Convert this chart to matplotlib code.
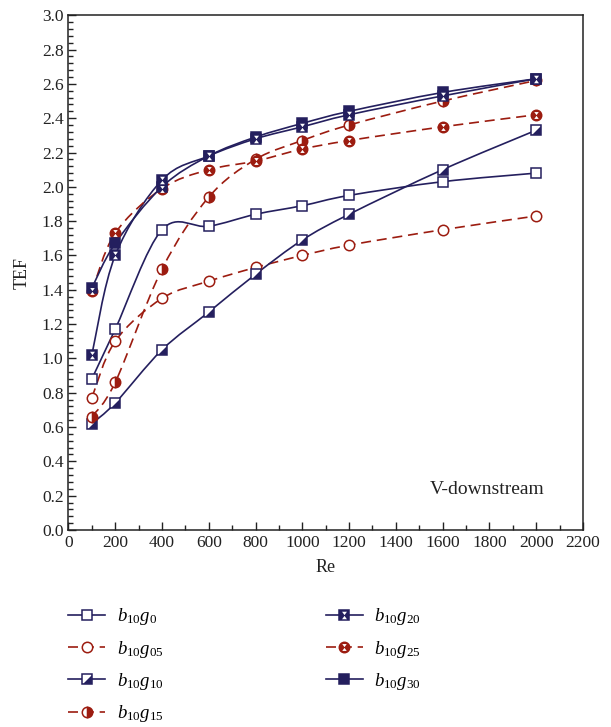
import numpy as np
import matplotlib
matplotlib.use("Agg")
from matplotlib import pyplot as plt
from matplotlib.path import Path
from matplotlib.patches import PathPatch
from matplotlib.lines import Line2D
from matplotlib.legend_handler import HandlerTuple
from matplotlib.ticker import MultipleLocator

plt.rcParams['font.family'] = ['Liberation Serif', 'DejaVu Serif']
plt.rcParams['mathtext.fontset'] = 'custom'
plt.rcParams['mathtext.rm'] = 'Liberation Serif'
plt.rcParams['mathtext.it'] = 'Liberation Serif:italic'

# ---------------------------------------------------------------------------
# Data
# ---------------------------------------------------------------------------
re_vals = [100, 200, 400, 600, 800, 1000, 1200, 1600, 2000]

tef_g0 = [0.88, 1.17, 1.75, 1.77, 1.84, 1.89, 1.95, 2.03, 2.08]
tef_g05 = [0.77, 1.10, 1.35, 1.45, 1.53, 1.60, 1.66, 1.75, 1.83]
tef_g10 = [0.62, 0.74, 1.05, 1.27, 1.49, 1.69, 1.84, 2.10, 2.33]
tef_g15 = [0.66, 0.86, 1.52, 1.94, 2.16, 2.27, 2.36, 2.50, 2.62]
tef_g20 = [1.02, 1.60, 2.04, 2.18, 2.28, 2.35, 2.42, 2.53, 2.63]
tef_g25 = [1.39, 1.73, 1.99, 2.10, 2.15, 2.22, 2.27, 2.35, 2.42]
tef_g30 = [1.41, 1.67, 2.00, 2.18, 2.29, 2.37, 2.44, 2.55, 2.63]

labels = [r'$b_{10}g_{0}$', r'$b_{10}g_{05}$', r'$b_{10}g_{10}$', r'$b_{10}g_{15}$',
          r'$b_{10}g_{20}$', r'$b_{10}g_{25}$', r'$b_{10}g_{30}$']

NAVY = '#241f5e'
RED = '#9c1c10'
TXT = '#222222'

# custom marker shapes
TRI_LR = [(-1, -1), (1, -1), (1, 1), (-1, -1)]          # lower-right half of a square
HOURGLASS = [(-0.65, 1), (0.65, 1), (0, 0.1), (-0.65, 1),
             (-0.65, -1), (0.65, -1), (0, -0.1), (-0.65, -1)]


def smooth_path(x, y):
    """Catmull-Rom curve through the points, as cubic Bezier segments."""
    pts = np.column_stack([x, y]).astype(float)
    ext = np.vstack([pts[0], pts, pts[-1]])
    verts = [pts[0]]
    codes = [Path.MOVETO]
    for i in range(len(pts) - 1):
        p0, p1, p2, p3 = ext[i], ext[i + 1], ext[i + 2], ext[i + 3]
        verts += [p1 + (p2 - p0) / 6.0, p2 - (p3 - p1) / 6.0, p2]
        codes += [Path.CURVE4] * 3
    return Path(verts, codes)


fig = plt.figure(figsize=(6.11, 7.27), dpi=100)
ax = fig.add_axes([0.112, 0.271, 0.842, 0.708])

ms = 7.5
lw = 1.2
dash = (0, (6, 3.5))

series = [
    (tef_g0, NAVY, '-', 'plain_sq'),
    (tef_g05, RED, dash, 'plain_ci'),
    (tef_g10, NAVY, '-', 'half_sq'),
    (tef_g15, RED, dash, 'half_ci'),
    (tef_g20, NAVY, '-', 'hour_sq'),
    (tef_g25, RED, dash, 'hour_ci'),
    (tef_g30, NAVY, '-', 'full_sq'),
]

handles = []
for vals, col, ls, kind in series:
    ax.add_patch(PathPatch(smooth_path(re_vals, vals), fill=False,
                           edgecolor=col, linestyle=ls, linewidth=lw, zorder=2))
    base = dict(color=col, markeredgecolor=col, markersize=ms, markeredgewidth=1.1)
    if kind == 'plain_sq':
        parts = [dict(marker='s', markerfacecolor='white')]
    elif kind == 'plain_ci':
        parts = [dict(marker='o', markerfacecolor='white')]
    elif kind == 'half_sq':
        parts = [dict(marker='s', markerfacecolor='white'),
                 dict(marker=TRI_LR, markerfacecolor=col, markersize=ms * 0.85, markeredgewidth=0)]
    elif kind == 'half_ci':
        parts = [dict(marker='o', fillstyle='right', markerfacecolor=col,
                      markerfacecoloralt='white')]
    elif kind == 'hour_sq':
        parts = [dict(marker='s', markerfacecolor=col),
                 dict(marker=HOURGLASS, markerfacecolor='white', markeredgewidth=0,
                      markersize=ms * 0.72)]
    elif kind == 'hour_ci':
        parts = [dict(marker='o', markerfacecolor=col),
                 dict(marker=HOURGLASS, markerfacecolor='white', markeredgewidth=0,
                      markersize=ms * 0.66)]
    else:
        parts = [dict(marker='s', markerfacecolor=col)]

    leg_parts = []
    for j, p in enumerate(parts):
        kw = dict(base)
        kw.update(p)
        ax.plot(re_vals, vals, linestyle='none', zorder=3 + j, **kw)
        leg_parts.append(Line2D([], [], linestyle=ls if j == 0 else 'none',
                                linewidth=lw, **kw))
    handles.append(tuple(leg_parts))

ax.set_xlim(0, 2200)
ax.set_ylim(0, 3.0)
ax.xaxis.set_major_locator(MultipleLocator(200))
ax.xaxis.set_minor_locator(MultipleLocator(100))
ax.yaxis.set_major_locator(MultipleLocator(0.2))
ax.yaxis.set_minor_locator(MultipleLocator(0.04))
ax.yaxis.set_major_formatter(matplotlib.ticker.FormatStrFormatter('%.1f'))
ax.tick_params(which='both', direction='in', top=False, right=False,
               labelsize=12.5, colors=TXT)
ax.tick_params(which='major', length=6, width=1)
ax.tick_params(which='minor', length=3.5, width=1)
for sp in ax.spines.values():
    sp.set_linewidth(1.1)
    sp.set_color(TXT)

ax.set_xlabel('Re', fontsize=13, color=TXT, labelpad=6)
ax.set_ylabel('TEF', fontsize=13, color=TXT, labelpad=8)
ax.text(1790, 0.235, 'V-downstream', fontsize=14, color=TXT,
        ha='center', va='center')

fig.legend(handles, labels, handler_map={tuple: HandlerTuple(ndivide=1, pad=0)},
           loc='upper left', bbox_to_anchor=(0.111, 0.166), ncol=2, frameon=False,
           fontsize=13.5, columnspacing=8.65, handlelength=2.0, handletextpad=0.6,
           labelspacing=0.6, borderpad=0, borderaxespad=0)

fig.savefig('out.png', dpi=100)
plt.close(fig)
